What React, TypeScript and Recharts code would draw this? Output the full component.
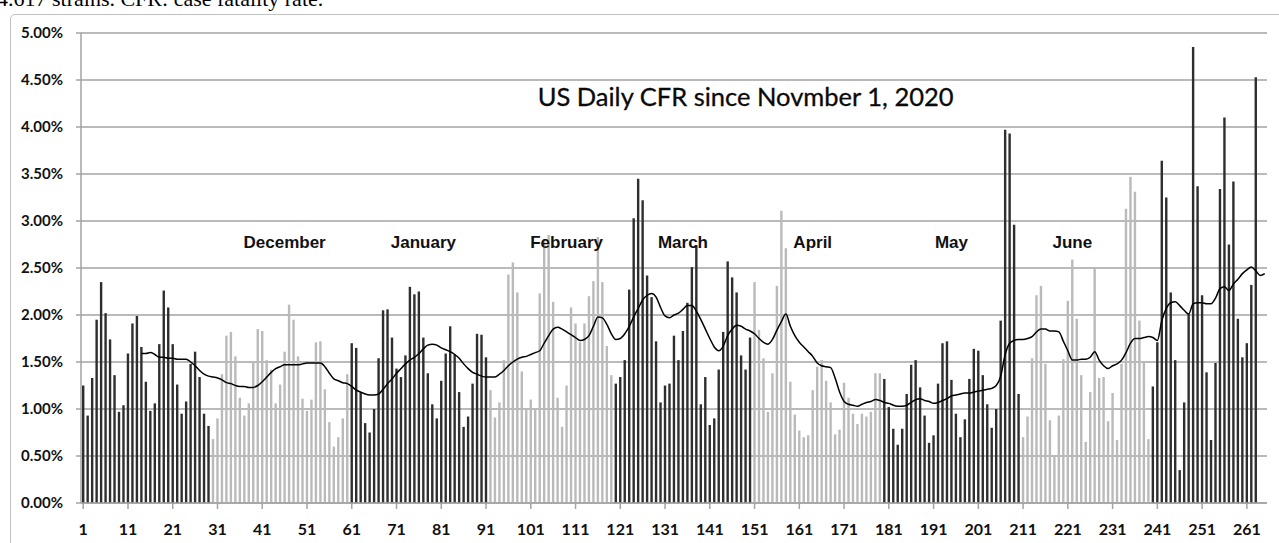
import {
  Bar,
  CartesianGrid,
  Cell,
  ComposedChart,
  Line,
  ReferenceDot,
  XAxis,
  YAxis,
} from "recharts";

// daily case fatality rate (%), day 1 = Nov 1, 2020
const dailyCfr = [
  1.25, 0.93, 1.33, 1.95, 2.35, 2.02, 1.74, 1.36, 0.97, 1.04,
  1.59, 1.91, 1.99, 1.66, 1.29, 0.98, 1.06, 1.69, 2.26, 2.08,
  1.69, 1.26, 0.95, 1.08, 1.48, 1.61, 1.34, 0.95, 0.82, 0.68,
  0.9, 1.37, 1.78, 1.82, 1.56, 1.12, 0.93, 1.06, 1.5, 1.85,
  1.83, 1.52, 1.42, 1.06, 1.26, 1.61, 2.11, 1.95, 1.56, 1.11,
  0.98, 1.1, 1.71, 1.72, 1.21, 0.86, 0.6, 0.7, 0.9, 1.37,
  1.7, 1.65, 1.18, 0.85, 0.75, 1.0, 1.54, 2.05, 2.06, 1.76,
  1.43, 1.34, 1.57, 2.3, 2.22, 2.25, 1.76, 1.38, 1.05, 0.9,
  1.3, 1.59, 1.88, 1.58, 1.18, 0.81, 0.92, 1.27, 1.8, 1.79,
  1.55, 1.2, 0.91, 1.07, 1.52, 2.43, 2.56, 2.24, 1.4, 1.0,
  1.1, 1.0, 2.23, 2.81, 2.85, 2.14, 1.12, 0.81, 1.25, 2.08,
  1.91, 1.71, 1.91, 2.2, 2.36, 2.83, 2.35, 1.67, 1.36, 1.27,
  1.34, 1.52, 2.27, 3.03, 3.45, 3.22, 2.42, 2.19, 1.72, 1.07,
  1.25, 1.27, 1.78, 1.52, 1.83, 2.13, 2.51, 2.74, 1.05, 1.34,
  0.83, 0.9, 1.42, 1.82, 2.57, 2.4, 2.24, 1.57, 1.42, 1.76,
  2.35, 1.84, 1.54, 0.97, 1.38, 2.31, 3.11, 2.71, 1.29, 0.94,
  0.77, 0.7, 0.72, 1.2, 1.45, 1.52, 1.3, 1.07, 0.73, 0.78,
  1.28, 1.12, 0.95, 0.84, 0.95, 0.92, 0.97, 1.38, 1.38, 1.32,
  1.02, 0.79, 0.62, 0.79, 1.16, 1.47, 1.52, 1.23, 0.93, 0.64,
  0.72, 1.27, 1.7, 1.72, 1.31, 0.95, 0.7, 0.89, 1.32, 1.64,
  1.62, 1.36, 1.05, 0.8, 1.0, 1.94, 3.97, 3.93, 2.96, 1.16,
  0.7, 0.92, 1.54, 2.21, 2.31, 1.48, 0.88, 0.5, 0.93, 1.53,
  2.15, 2.59, 1.96, 1.36, 0.65, 1.18, 2.51, 1.33, 1.34, 0.87,
  1.17, 0.67, 1.48, 3.13, 3.47, 3.31, 1.94, 1.5, 0.68, 1.24,
  1.71, 3.64, 3.25, 2.24, 1.52, 0.35, 1.07, 2.01, 4.85, 3.37,
  2.21, 1.39, 0.67, 1.49, 3.34, 4.1, 2.75, 3.42, 1.96, 1.55,
  1.7, 2.32, 4.53, null, null,
];

// moving average (%), starts on day 14
const movingAvg = [
  null, null, null, null, null, null, null, null, null, null,
  null, null, null, 1.59, 1.59, 1.6, 1.58, 1.55, 1.55, 1.54,
  1.54, 1.53, 1.53, 1.53, 1.5, 1.46, 1.41, 1.37, 1.35, 1.34,
  1.33, 1.31, 1.28, 1.27, 1.25, 1.24, 1.24, 1.23, 1.23, 1.25,
  1.29, 1.34, 1.39, 1.43, 1.45, 1.47, 1.47, 1.47, 1.47, 1.48,
  1.49, 1.49, 1.49, 1.49, 1.45, 1.38, 1.32, 1.3, 1.28, 1.27,
  1.24, 1.2, 1.18, 1.16, 1.15, 1.15, 1.16, 1.21, 1.27, 1.32,
  1.38, 1.43, 1.48, 1.52, 1.55, 1.59, 1.64, 1.68, 1.69, 1.68,
  1.65, 1.63, 1.61, 1.58, 1.54, 1.48, 1.43, 1.39, 1.37, 1.35,
  1.34, 1.34, 1.34, 1.37, 1.41, 1.46, 1.5, 1.53, 1.55, 1.56,
  1.58, 1.6, 1.62, 1.7, 1.78, 1.85, 1.87, 1.85, 1.82, 1.79,
  1.76, 1.73, 1.74, 1.78, 1.88, 1.98, 1.97, 1.9, 1.8, 1.74,
  1.75, 1.8, 1.88, 1.98, 2.07, 2.16, 2.21, 2.23, 2.19, 2.08,
  1.99, 1.97, 2.0, 2.02, 2.06, 2.1, 2.1, 2.04, 1.95, 1.85,
  1.75, 1.66, 1.62, 1.67, 1.78, 1.85, 1.89, 1.88, 1.85, 1.83,
  1.8, 1.75, 1.71, 1.69, 1.74, 1.84, 1.93, 2.01, 1.88, 1.78,
  1.71, 1.66, 1.61, 1.56, 1.49, 1.46, 1.45, 1.44, 1.33, 1.18,
  1.08, 1.05, 1.04, 1.03, 1.05, 1.07, 1.08, 1.1, 1.09, 1.07,
  1.06, 1.04, 1.03, 1.03, 1.04, 1.07, 1.1, 1.11, 1.09, 1.08,
  1.06, 1.07, 1.09, 1.11, 1.14, 1.15, 1.16, 1.17, 1.17, 1.18,
  1.19, 1.2, 1.21, 1.22, 1.25, 1.35, 1.58, 1.7, 1.73, 1.74,
  1.74, 1.75, 1.77, 1.82, 1.85, 1.85, 1.83, 1.83, 1.82, 1.72,
  1.62, 1.52, 1.52, 1.53, 1.53, 1.55, 1.61, 1.52, 1.46, 1.43,
  1.46, 1.48, 1.52, 1.6, 1.7, 1.75, 1.75, 1.76, 1.77, 1.76,
  1.73, 1.94, 2.07, 2.13, 2.14, 2.1, 2.05, 2.01, 2.12, 2.13,
  2.13, 2.12, 2.12, 2.18, 2.28, 2.3, 2.26, 2.33, 2.38, 2.44,
  2.48, 2.51, 2.47, 2.42, 2.44,
];

// first day of each shade change (dark / light alternate)
const shadeBreaks = [30, 61, 92, 120, 151, 180, 211, 240];

const monthLabels = [
  { day: 46, name: "December" },
  { day: 77, name: "January" },
  { day: 109, name: "February" },
  { day: 135, name: "March" },
  { day: 164, name: "April" },
  { day: 195, name: "May" },
  { day: 222, name: "June" },
];

const yTicks = [0, 0.5, 1, 1.5, 2, 2.5, 3, 3.5, 4, 4.5, 5];

const data = movingAvg.map((avg, i) => ({
  day: i + 1,
  cfr: dailyCfr[i],
  avg,
}));

function shade(day: number) {
  const n = shadeBreaks.filter((b) => day >= b).length;
  return n % 2 === 1 ? "#bababa" : "#2e2e2e";
}

const tickStyle = {
  fontFamily: "Lato",
  fontWeight: 700,
  fontSize: 15,
  fill: "#111",
};

export default function App() {
  return (
    <div
      style={{
        position: "absolute",
        left: 0,
        top: 0,
        width: 1279,
        height: 543,
        overflow: "hidden",
        background: "#fff",
      }}
    >
      <div
        style={{
          position: "absolute",
          left: -3,
          top: -11.7,
          fontFamily: "'Liberation Serif'",
          fontSize: 22,
          lineHeight: "22px",
          whiteSpace: "nowrap",
          color: "#000",
        }}
      >
        4.617 strains. CFR: case fatality rate.
      </div>
      <div
        style={{
          position: "absolute",
          left: 10,
          top: 14,
          width: 1320,
          height: 620,
          border: "1.5px solid #c2c2c2",
          borderRadius: 5,
        }}
      />
      <div style={{ position: "absolute", left: 0, top: 0 }}>
        <ComposedChart
          width={1279}
          height={543}
          data={data}
          margin={{ top: 33, right: 12, bottom: 10, left: 0 }}
        >
          <CartesianGrid vertical={false} stroke="#a3a3a3" strokeWidth={1.5} />
          <XAxis
            dataKey="day"
            interval={9}
            height={30}
            tick={{ ...tickStyle, fontSize: 16 }}
            tickSize={6}
            tickMargin={15}
            axisLine={{ stroke: "#a3a3a3", strokeWidth: 1.5 }}
            tickLine={{ stroke: "#a3a3a3", strokeWidth: 1.5 }}
          />
          <YAxis
            width={81}
            domain={[0, 5]}
            ticks={yTicks}
            tickFormatter={(v: number) => `${v.toFixed(2)}%`}
            tick={tickStyle}
            tickSize={5}
            tickMargin={13}
            axisLine={{ stroke: "#a3a3a3", strokeWidth: 1.5 }}
            tickLine={{ stroke: "#a3a3a3", strokeWidth: 1.5 }}
          />
          <Bar dataKey="cfr" barSize={2.4} isAnimationActive={false}>
            {data.map((d) => (
              <Cell key={d.day} fill={shade(d.day)} />
            ))}
          </Bar>
          <Line
            dataKey="avg"
            type="monotone"
            stroke="#000"
            strokeWidth={1.5}
            dot={false}
            activeDot={false}
            isAnimationActive={false}
          />
          {monthLabels.map((m) => (
            <ReferenceDot
              key={m.name}
              x={m.day}
              y={2.78}
              r={1}
              fill="none"
              stroke="none"
              label={{
                value: m.name,
                position: "center",
                fontFamily: "'Liberation Sans'",
                fontWeight: 700,
                fontSize: 17,
                fill: "#111",
              }}
            />
          ))}
          <ReferenceDot
            x={149}
            y={4.32}
            r={1}
            fill="none"
            stroke="none"
            label={{
              value: "US Daily CFR since Novmber 1, 2020",
              position: "center",
              fontFamily: "Lato",
              fontSize: 25.5,
              fill: "#0a0a0a",
              stroke: "#0a0a0a",
              strokeWidth: 0.3,
            }}
          />
        </ComposedChart>
      </div>
    </div>
  );
}
